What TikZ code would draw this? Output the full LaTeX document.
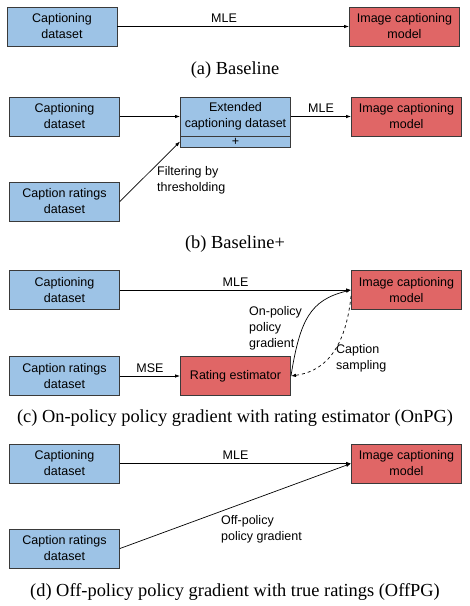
\documentclass[tikz,border=0pt]{standalone}
\usepackage{fontspec}
\setmainfont{Liberation Serif}
\setsansfont{Liberation Sans}
\usetikzlibrary{arrows.meta}
\definecolor{datafill}{HTML}{9DC3E6}
\definecolor{modelfill}{HTML}{E06666}
\definecolor{edge}{HTML}{3A3A3A}

\begin{document}
\begin{tikzpicture}[x=1pt, y=-1pt, font=\sffamily\fontsize{12.5}{16}\selectfont,
    >={Latex[length=5pt, width=3.5pt]},
    box/.style={draw=edge, line width=0.9pt, minimum width=110pt, minimum height=39pt, inner sep=0pt, align=center},
    data/.style={box, fill=datafill},
    net/.style={box, fill=modelfill},
    flow/.style={->, line width=0.7pt},
    note/.style={anchor=north west, align=left, inner sep=0pt},
    subcap/.style={font=\rmfamily\fontsize{18.4}{20}\selectfont}]
    \useasboundingbox (0,0) rectangle (470,606);
    % (a) Baseline: plain maximum likelihood.
    \node[data] (capA) at (62,26.5) {Captioning\\dataset};
    \node[net] (modelA) at (404.5,26.5) {Image captioning\\model};
    \draw[flow] (capA) -- (modelA) node[pos=0.46, above] {MLE};
    \node[subcap] (subA) at (235,70) {(a) Baseline};
    % (b) Baseline+: ratings filtered into an extended dataset.
    \node[data] (capB) at (64.5,116.5) {Captioning\\dataset};
    \node[data] (extB) at (235.5,116.5) {Extended\\captioning dataset};
    \node[data, minimum height=11pt] (plusB) at (235.5,141.5) {+};
    \node[net] (modelB) at (406.5,116.5) {Image captioning\\model};
    \node[data] (rateB) at (64.5,201.5) {Caption ratings\\dataset};
    \draw[flow] (capB) -- (extB);
    \draw[flow] (extB) -- (modelB) node[midway, above] {MLE};
    \draw[flow] (rateB.east) -- (plusB.west);
    \node[note] (filterB) at (157,166) {Filtering by\\thresholding};
    \node[subcap] (subB) at (235,244) {(b) Baseline+};
    % (c) OnPG: a learned rating estimator scores sampled captions.
    \node[data] (capC) at (64.5,290) {Captioning\\dataset};
    \node[net] (modelC) at (406.5,290) {Image captioning\\model};
    \node[data] (rateC) at (64.5,376) {Caption ratings\\dataset};
    \node[net] (estC) at (235.5,376) {Rating estimator};
    \draw[flow] (capC) -- (modelC) node[midway, above] {MLE};
    \draw[flow] (rateC) -- (estC) node[midway, above] {MSE};
    \draw[flow] (estC.east) .. controls (300,320) and (310,300) .. (modelC.west);
    \draw[flow, dashed] (modelC.186) .. controls (345,355) and (320,372) .. (estC.east);
    \node[note] (onC) at (249,306) {On-policy\\policy\\gradient};
    \node[note] (sampleC) at (336,344) {Caption\\sampling};
    \node[subcap] (subC) at (235,418) {(c) On-policy policy gradient with rating estimator (OnPG)};
    % (d) OffPG: true ratings used directly.
    \node[data] (capD) at (64.5,463.5) {Captioning\\dataset};
    \node[net] (modelD) at (406.5,463.5) {Image captioning\\model};
    \node[data] (rateD) at (64.5,548.5) {Caption ratings\\dataset};
    \draw[flow] (capD) -- (modelD) node[midway, above] {MLE};
    \draw[flow] (rateD.east) -- (modelD.west);
    \node[note] (offD) at (221,515) {Off-policy\\policy gradient};
    \node[subcap] (subD) at (235,592) {(d) Off-policy policy gradient with true ratings (OffPG)};
\end{tikzpicture}
\end{document}
